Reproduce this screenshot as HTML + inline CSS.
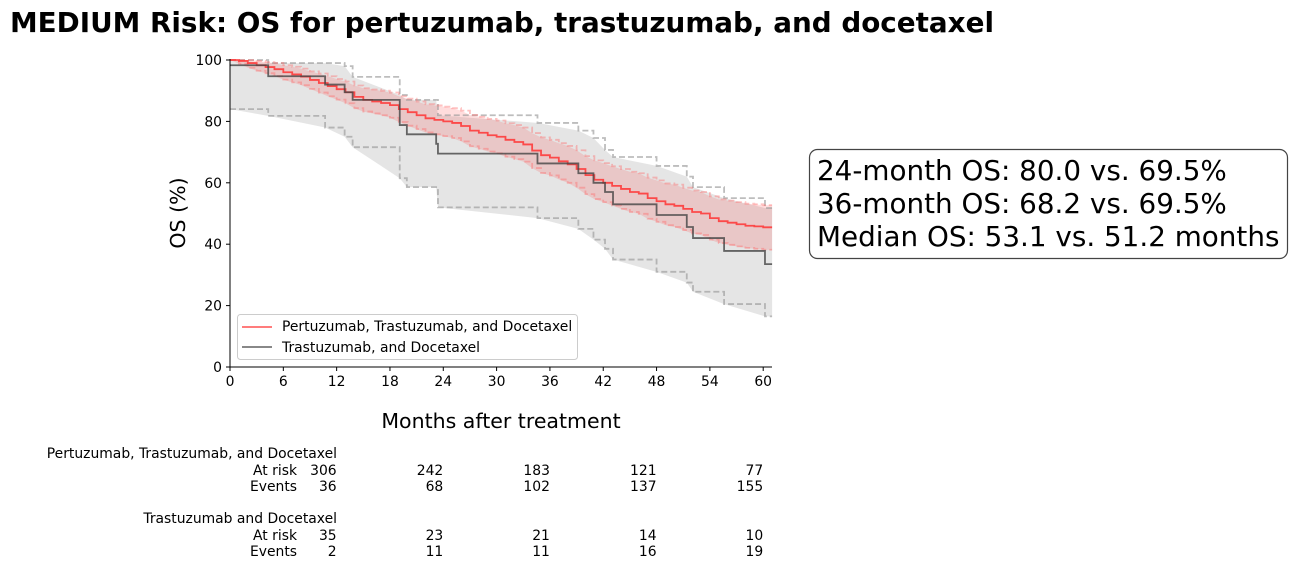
<!DOCTYPE html>
<html><head><meta charset="utf-8"><style>
body{margin:0;background:#fff;font-family:"DejaVu Sans","Liberation Sans",sans-serif;}
svg{display:block}
text{font-family:"DejaVu Sans","Liberation Sans",sans-serif;}
</style></head><body>
<svg id="chart" width="1289" height="584">
<text x="10" y="32" font-size="27.8" font-weight="bold">MEDIUM Risk: OS for pertuzumab, trastuzumab, and docetaxel</text>
<g id="plot"></g>
<g id="axes"></g>
<text x="185" y="213" font-size="20.5" text-anchor="middle" transform="rotate(-90 185 213)">OS (%)</text>
<text x="501" y="428" font-size="20.5" text-anchor="middle">Months after treatment</text>
<g>
<rect x="237.5" y="314.5" width="340" height="45" rx="3" fill="#fff" fill-opacity="0.8" stroke="#ccc"/>
<g><line x1="242" y1="327" x2="272" y2="327" stroke="#f44" stroke-opacity="0.8" stroke-width="1.8"/><text x="282" y="331" font-size="13.9">Pertuzumab, Trastuzumab, and Docetaxel</text></g>
<g><line x1="242" y1="347" x2="272" y2="347" stroke="#555" stroke-opacity="0.8" stroke-width="1.8"/><text x="282" y="352" font-size="13.9">Trastuzumab, and Docetaxel</text></g>
</g>
<g>
<rect x="809.5" y="149.5" width="478" height="109" rx="8" fill="#fff" stroke="#444" stroke-width="1.2"/>
<text x="817" y="180" font-size="27.8">24-month OS: 80.0 vs. 69.5%</text>
<text x="817" y="213" font-size="27.8">36-month OS: 68.2 vs. 69.5%</text>
<text x="817" y="246" font-size="27.8">Median OS: 53.1 vs. 51.2 months</text>
</g>
<g id="risk" font-size="13.9"></g>
</svg>
<script>
const redT=[0,1,2,3,4,5,6,7,8,9,10,11,12,13,14,15,16,17,18,19,20,21,22,23,24,25,26,27,28,29,30,31,32,33,34,35,36,37,38,39,40,41,42,43,44,45,46,47,48,49,50,51,52,53,54,55,56,57,58,59,60];
const redV=[100,99.7,99,98.3,97.7,97,96,95.3,94.6,93.5,92.5,91.5,90.5,89.5,88,87,86.5,86,85.3,84,83,82,81,80.5,80,79.5,78.5,77,76.3,75.5,75,74,73.3,72.5,70.5,69,68.2,67,66,64.5,62.5,61,60,59,58,57,56.5,55,54,53,52.5,51.5,50.5,50,48.5,47.5,47,46.5,46,45.8,45.5];
const redU=[100,100,100,99.7,99.3,99,98.3,97.8,97.2,96.3,95.6,94.7,93.8,93,91.7,90.8,90.4,90,89.4,88.2,87.4,86.5,85.6,85.2,84.8,84.3,83.5,82.1,81.5,80.8,80.3,79.4,78.8,78,76.2,74.8,74,72.9,72,70.6,68.7,67.3,66.4,65.4,64.5,63.6,63.1,61.7,60.8,59.8,59.4,58.4,57.5,57,55.6,54.6,54.2,53.7,53.2,53,52.7];
const redL=[100,98.8,97.5,96.5,95.7,94.8,93.6,92.7,91.8,90.6,89.4,88.2,87.1,85.9,84.3,83.2,82.6,82,81.2,79.8,78.6,77.5,76.4,75.8,75.2,74.6,73.5,71.9,71.1,70.2,69.6,68.5,67.7,66.9,64.8,63.2,62.4,61.1,60,58.4,56.3,54.7,53.7,52.6,51.5,50.5,49.9,48.3,47.3,46.2,45.6,44.6,43.5,43,41.5,40.4,39.8,39.3,38.8,38.5,38.2];
const grayT=[0,4.3,10.7,12.9,13.8,19.1,19.9,23.2,23.4,34.6,39.2,40.9,42.2,43.1,48,51.4,52.1,55.6,60.2];
const grayV=[98.3,94.7,92,89.5,87,78.8,75.8,72.7,69.5,66.3,63.1,60,57,53,49.5,45.6,42,37.8,33.5];
const grayU=[100,99,99,98,94.5,88.6,87,87,82,79.5,77,74.6,70.7,68.4,65.5,62,58.6,55,51.8];
const grayL=[84,81.8,78,75,71.6,61.5,58.6,58.6,52,48.5,45,41.5,38.5,35,31,27.5,24.5,20.5,16.5];
const xTicks=[0,6,12,18,24,30,36,42,48,54,60];
const yTicks=[0,20,40,60,80,100];
const g1Risk=[306,242,183,121,77];
const g1Ev=[36,68,102,137,155];
const g2Risk=[35,23,21,14,10];
const g2Ev=[2,11,11,16,19];
const riskCols=[12,24,36,48,60];
const XMAX=61;
const X=t=>230+t*(763.2-230)/60;
const Y=v=>367-v*3.07;
const NS='http://www.w3.org/2000/svg';
function mk(tag,attrs,parent){const e=document.createElementNS(NS,tag);for(const k in attrs)e.setAttribute(k,attrs[k]);parent.appendChild(e);return e;}
function stepPts(T,V){let p=[];for(let i=0;i<T.length;i++){if(i>0)p.push([X(T[i]),Y(V[i-1])]);p.push([X(T[i]),Y(V[i])]);}p.push([X(XMAX),Y(V[V.length-1])]);return p;}
function linPts(T,V){let p=T.map((t,i)=>[X(t),Y(V[i])]);p.push([X(XMAX),Y(V[V.length-1])]);return p;}
const plot=document.getElementById('plot');
function band(T,U,L,fill,op,name,lin){
  const f=lin?linPts:stepPts;
  const up=f(T,U),lo=f(T,L).reverse();
  const e=mk('polygon',{points:up.concat(lo).map(p=>p.join(',')).join(' '),fill:fill,'fill-opacity':op},plot);
  
  
}
function line(T,V,col,op,w,dash,name){
  const e=mk('polyline',{points:stepPts(T,V).map(p=>p.join(',')).join(' '),fill:'none',stroke:col,'stroke-opacity':op,'stroke-width':w},plot);
  if(dash)e.setAttribute('stroke-dasharray',dash);
  
  
}
band(grayT,grayU,grayL,'#aaa',0.3,'ci-band-td',true);
band(redT,redU,redL,'#f44',0.18,'ci-band-ptd',true);
line(grayT,grayU,'#999',0.65,1.8,'6,3','ci-upper-td');
line(grayT,grayL,'#999',0.65,1.8,'6,3','ci-lower-td');
line(redT,redU,'#f66',0.4,1.8,'6,3','ci-upper-ptd');
line(redT,redL,'#f66',0.4,1.8,'6,3','ci-lower-ptd');
line(redT,redV,'#f33',0.85,1.8,null,'curve-ptd');
line(grayT,grayV,'#444',0.8,1.8,null,'curve-td');
const axes=document.getElementById('axes');
mk('line',{x1:230,y1:59,x2:230,y2:367.5,stroke:'#000','stroke-width':1},axes);
mk('line',{x1:229.5,y1:367,x2:772,y2:367,stroke:'#000','stroke-width':1},axes);
xTicks.forEach(t=>{
  mk('line',{x1:X(t),y1:367,x2:X(t),y2:371,stroke:'#000'},axes);
  const e=mk('text',{x:X(t),y:386,'font-size':13.9,'text-anchor':'middle'},axes);e.textContent=t;
  
  
});
yTicks.forEach(v=>{
  mk('line',{x1:226,y1:Y(v),x2:230,y2:Y(v),stroke:'#000'},axes);
  const e=mk('text',{x:222,y:Y(v)+5,'font-size':13.9,'text-anchor':'end'},axes);e.textContent=v;
  
  
});
const risk=document.getElementById('risk');
function txt(x,y,s){const e=mk('text',{x:x,y:y,'text-anchor':'end'},risk);e.textContent=s;return e;}
txt(337,458,'Pertuzumab, Trastuzumab, and Docetaxel');
txt(297,475,'At risk');txt(297,491,'Events');
txt(337,523,'Trastuzumab and Docetaxel');
txt(297,540,'At risk');txt(297,556,'Events');
riskCols.forEach((t,i)=>{
  const x=X(t);
  let e=txt(x,475,g1Risk[i]);
  e=txt(x,491,g1Ev[i]);
  e=txt(x,540,g2Risk[i]);
  e=txt(x,556,g2Ev[i]);
});
</script>
</body></html>
